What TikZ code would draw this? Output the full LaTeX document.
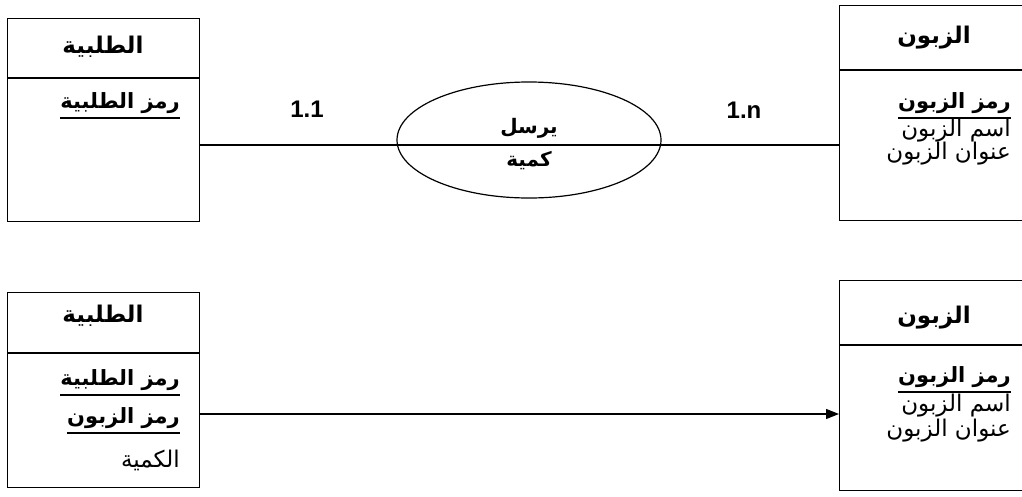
\documentclass[tikz,border=0pt]{standalone}
\usepackage{fontspec}
\setmainfont{Liberation Sans}
\newfontfamily\arabicfont[Script=Arabic]{DejaVu Sans}
\TeXXeTstate=1
\usetikzlibrary{shapes.geometric,arrows.meta}
\newcommand{\artxt}[1]{{\arabicfont\beginR #1\endR}}
\newcommand{\arund}[1]{\setbox0\hbox{\artxt{#1}}\vtop{\copy0\kern3pt\hrule height 2.4pt}}
\newcommand{\lowered}[1]{\raisebox{-4pt}[\height][\depth]{#1}}
\begin{document}
\begin{tikzpicture}[x=1pt,y=-1pt,
  box/.style={draw,line width=1.4pt,anchor=north west,inner sep=0pt},
  divider/.style={line width=1.2pt},
  link/.style={line width=1.2pt},
  head/.style={inner sep=0pt,font=\fontsize{23}{27}\selectfont\bfseries},
  attr/.style={inner sep=0pt,anchor=east,font=\fontsize{23}{27}\selectfont},
  keyattr/.style={attr,font=\fontsize{21}{25}\selectfont\bfseries},
  card/.style={inner sep=0pt,font=\fontsize{24}{28}\selectfont\bfseries},
  rel/.style={draw,ellipse,line width=1.2pt,inner sep=0pt,minimum width=264pt,minimum height=116pt,align=center,font=\fontsize{20}{33}\selectfont\bfseries}]
\useasboundingbox (0,0) rectangle (1022,496);
\clip (0,0) rectangle (1022,496);
\fill[white] (0,0) rectangle (1022,496);

% ---------- top diagram ----------
\node[box,minimum width=192pt,minimum height=203pt] (o1) at (7,18) {};
\draw[divider] ([yshift=-60pt]o1.north west) -- ([yshift=-60pt]o1.north east);
\node[head] (o1h) at (103,47) {\artxt{الطلبية}};
\node[keyattr] (o1a) at (180,106) {\arund{رمز الطلبية}};

\node[box,minimum width=200pt,minimum height=215pt] (c1) at (839,5) {};
\draw[divider] ([yshift=-65pt]c1.north west) -- ([yshift=-65pt]c1.north east);
\node[head] (c1h) at (934,38) {\artxt{الزبون}};
\node[keyattr] (c1a) at (1011,106) {\arund{رمز الزبون}};
\node[attr] (c1b) at (1011,131) {\artxt{اسم الزبون}};
\node[attr] (c1c) at (1011,154) {\artxt{عنوان الزبون}};

\node[rel] (r) at (529,140) {\lowered{\artxt{يرسل}}\\\lowered{\artxt{كمية}}};
\coordinate (ly) at (529,145);
\draw[link] (o1.east |- ly) -- (c1.west |- ly);

\node[card] (k1) at (307,109) {1.1};
\node[card] (k2) at (744,110) {1.n};

% ---------- bottom diagram ----------
\node[box,minimum width=192pt,minimum height=195pt] (o2) at (7,292) {};
\draw[divider] ([yshift=-61pt]o2.north west) -- ([yshift=-61pt]o2.north east);
\node[head] (o2h) at (103,316) {\artxt{الطلبية}};
\node[keyattr] (o2a) at (180,383) {\arund{رمز الطلبية}};
\node[keyattr] (o2b) at (180,421) {\arund{رمز الزبون}};
\node[attr] (o2c) at (180,460) {\artxt{الكمية}};

\node[box,minimum width=200pt,minimum height=210pt] (c2) at (839,280) {};
\draw[divider] ([yshift=-65pt]c2.north west) -- ([yshift=-65pt]c2.north east);
\node[head] (c2h) at (934,318) {\artxt{الزبون}};
\node[keyattr] (c2a) at (1011,380) {\arund{رمز الزبون}};
\node[attr] (c2b) at (1011,406) {\artxt{اسم الزبون}};
\node[attr] (c2c) at (1011,431) {\artxt{عنوان الزبون}};

\coordinate (ay) at (520,414);
\draw[link,-{Triangle[length=13pt,width=10pt]}] (o2.east |- ay) -- (c2.west |- ay);
\end{tikzpicture}
\end{document}
